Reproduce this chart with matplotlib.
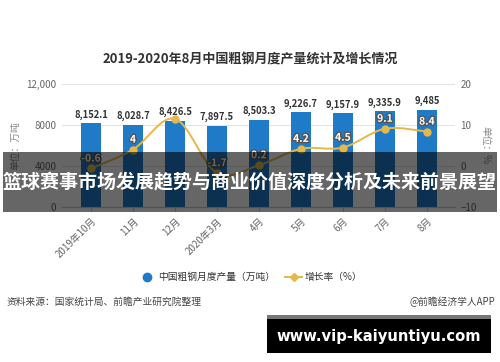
import matplotlib.pyplot as plt
import matplotlib.patheffects as pe
import numpy as np
from matplotlib.path import Path
from matplotlib.patches import PathPatch, Rectangle
from matplotlib.lines import Line2D

plt.rcParams['font.family'] = ['Noto Sans CJK SC', 'DejaVu Sans']

months = ['2019年10月', '11月', '12月', '2020年3月', '4月', '5月', '6月', '7月', '8月']
output = [8152.1, 8028.7, 8426.5, 7897.5, 8503.3, 9226.7, 9157.9, 9335.9, 9485]
output_labels = ['8,152.1', '8,028.7', '8,426.5', '7,897.5', '8,503.3', '9,226.7', '9,157.9', '9,335.9', '9,485']
growth = [-0.6, 4, 11.5, -1.7, 0.2, 4.2, 4.5, 9.1, 8.4]
growth_labels = ['-0.6', '4', '', '-1.7', '0.2', '4.2', '4.5', '9.1', '8.4']

blue = '#1f7bc8'
gold = '#e6b84a'
grey = '#666666'

fig = plt.figure(figsize=(5, 3.62), dpi=100)
ax = fig.add_axes([0.124, 0.428, 0.786, 0.34])
ax2 = ax.twinx()

x = np.arange(len(months))
ax.bar(x, output, width=0.48, color=blue, zorder=2)
ax.set_ylim(0, 12000)
ax.set_yticks([0, 4000, 8000, 12000])
ax.set_yticklabels(['0', '4000', '8000', '12,000'])
ax.set_xlim(-0.69, 8.67)
ax.grid(axis='y', color='#e3e3e3', lw=0.8, zorder=0)
for s in ['top', 'right', 'left']:
    ax.spines[s].set_visible(False)
ax.spines['bottom'].set_color('#cccccc')
ax.tick_params(axis='y', length=0, labelsize=7, labelcolor=grey, pad=4)
ax.tick_params(axis='x', length=3, color='#cccccc', labelsize=7, labelcolor=grey)
ax.set_xticks(x)
ax.set_xticklabels(months, rotation=45, ha='right', rotation_mode='anchor')
ax.set_ylabel('单位：万吨', fontsize=7, color='#888888', labelpad=4)

for xi, v, lab in zip(x, output, output_labels):
    ax.text(xi, v + 350, lab, ha='center', va='bottom', fontsize=6.8,
            fontweight='bold', color='#333333', zorder=5)

ax2.set_ylim(-10, 20)
ax2.set_yticks([-10, 0, 10, 20])
for s in ['top', 'right', 'left', 'bottom']:
    ax2.spines[s].set_visible(False)
ax2.tick_params(axis='y', length=0, labelsize=7, labelcolor=grey, pad=4)
ax2.set_ylabel('单位：%', fontsize=7, color='#888888', rotation=-90, labelpad=10)

# smooth line through the growth points (Catmull-Rom as cubic Bezier)
pts = np.column_stack([x, growth]).astype(float)
verts = [pts[0]]
codes = [Path.MOVETO]
for i in range(len(pts) - 1):
    p0 = pts[i - 1] if i > 0 else pts[i]
    p1 = pts[i]
    p2 = pts[i + 1]
    p3 = pts[i + 2] if i + 2 < len(pts) else pts[i + 1]
    c1 = p1 + (p2 - p0) / 6
    c2 = p2 - (p3 - p1) / 6
    verts += [c1, c2, p2]
    codes += [Path.CURVE4] * 3
ax2.add_patch(PathPatch(Path(verts, codes), fill=False, edgecolor=gold, lw=1.4, zorder=3))
ax2.plot(x, growth, 'o', color=gold, ms=5, zorder=4)

for xi, v, lab in zip(x, growth, growth_labels):
    if lab:
        ax2.text(xi, v + 1.2, lab, ha='center', va='bottom', fontsize=7.5, color='white',
                 fontweight='bold', zorder=5,
                 path_effects=[pe.withStroke(linewidth=2, foreground='#555555')])

fig.text(0.5, 1 - 60 / 362, '2019-2020年8月中国粗钢月度产量统计及增长情况', ha='center', va='center',
         fontsize=9.4, fontweight='bold', color='#333333')

# legend
fig.add_artist(Line2D([147 / 500], [1 - 277 / 362], marker='o', color=blue, ms=6, ls='none'))
fig.text(158 / 500, 1 - 277 / 362, '中国粗钢月度产量（万吨）', ha='left', va='center', fontsize=7, color='#333333')
fig.add_artist(Line2D([285 / 500, 302 / 500], [1 - 277 / 362] * 2, color=gold, lw=1.4))
fig.add_artist(Line2D([293.5 / 500], [1 - 277 / 362], marker='D', color=gold, ms=4, ls='none'))
fig.text(305 / 500, 1 - 277 / 362, '增长率（%）', ha='left', va='center', fontsize=7, color='#333333')

fig.text(7 / 500, 1 - 302 / 362, '资料来源：国家统计局、前瞻产业研究院整理', ha='left', va='center', fontsize=7, color='#444444')
fig.text(495 / 500, 1 - 302 / 362, '@前瞻经济学人APP', ha='right', va='center', fontsize=7, color='#444444')

# dark overlay band with headline
fig.patches.append(Rectangle((3 / 500, 1 - 212 / 362), 494 / 500, 60 / 362, transform=fig.transFigure,
                             facecolor='black', alpha=0.6, zorder=10))
fig.text(0.5, 1 - 182 / 362, '篮球赛事市场发展趋势与商业价值深度分析及未来前景展望', ha='center', va='center',
         fontsize=13.7, fontweight='bold', color='white', zorder=11)

# bottom url box
fig.patches.append(Rectangle((267 / 500, 1 - 353 / 362), 224 / 500, 38 / 362, transform=fig.transFigure,
                             facecolor='black', zorder=10))
fig.patches.append(Rectangle((267 / 500, 1 - 319 / 362), 224 / 500, 4 / 362, transform=fig.transFigure,
                             facecolor='#777777', zorder=11))
fig.text(379 / 500, 1 - 337 / 362, 'www.vip-kaiyuntiyu.com', ha='center', va='center',
         fontsize=10.6, fontweight='bold', color='white', zorder=12, family=['DejaVu Sans'])

fig.savefig('out.png', dpi=100)
